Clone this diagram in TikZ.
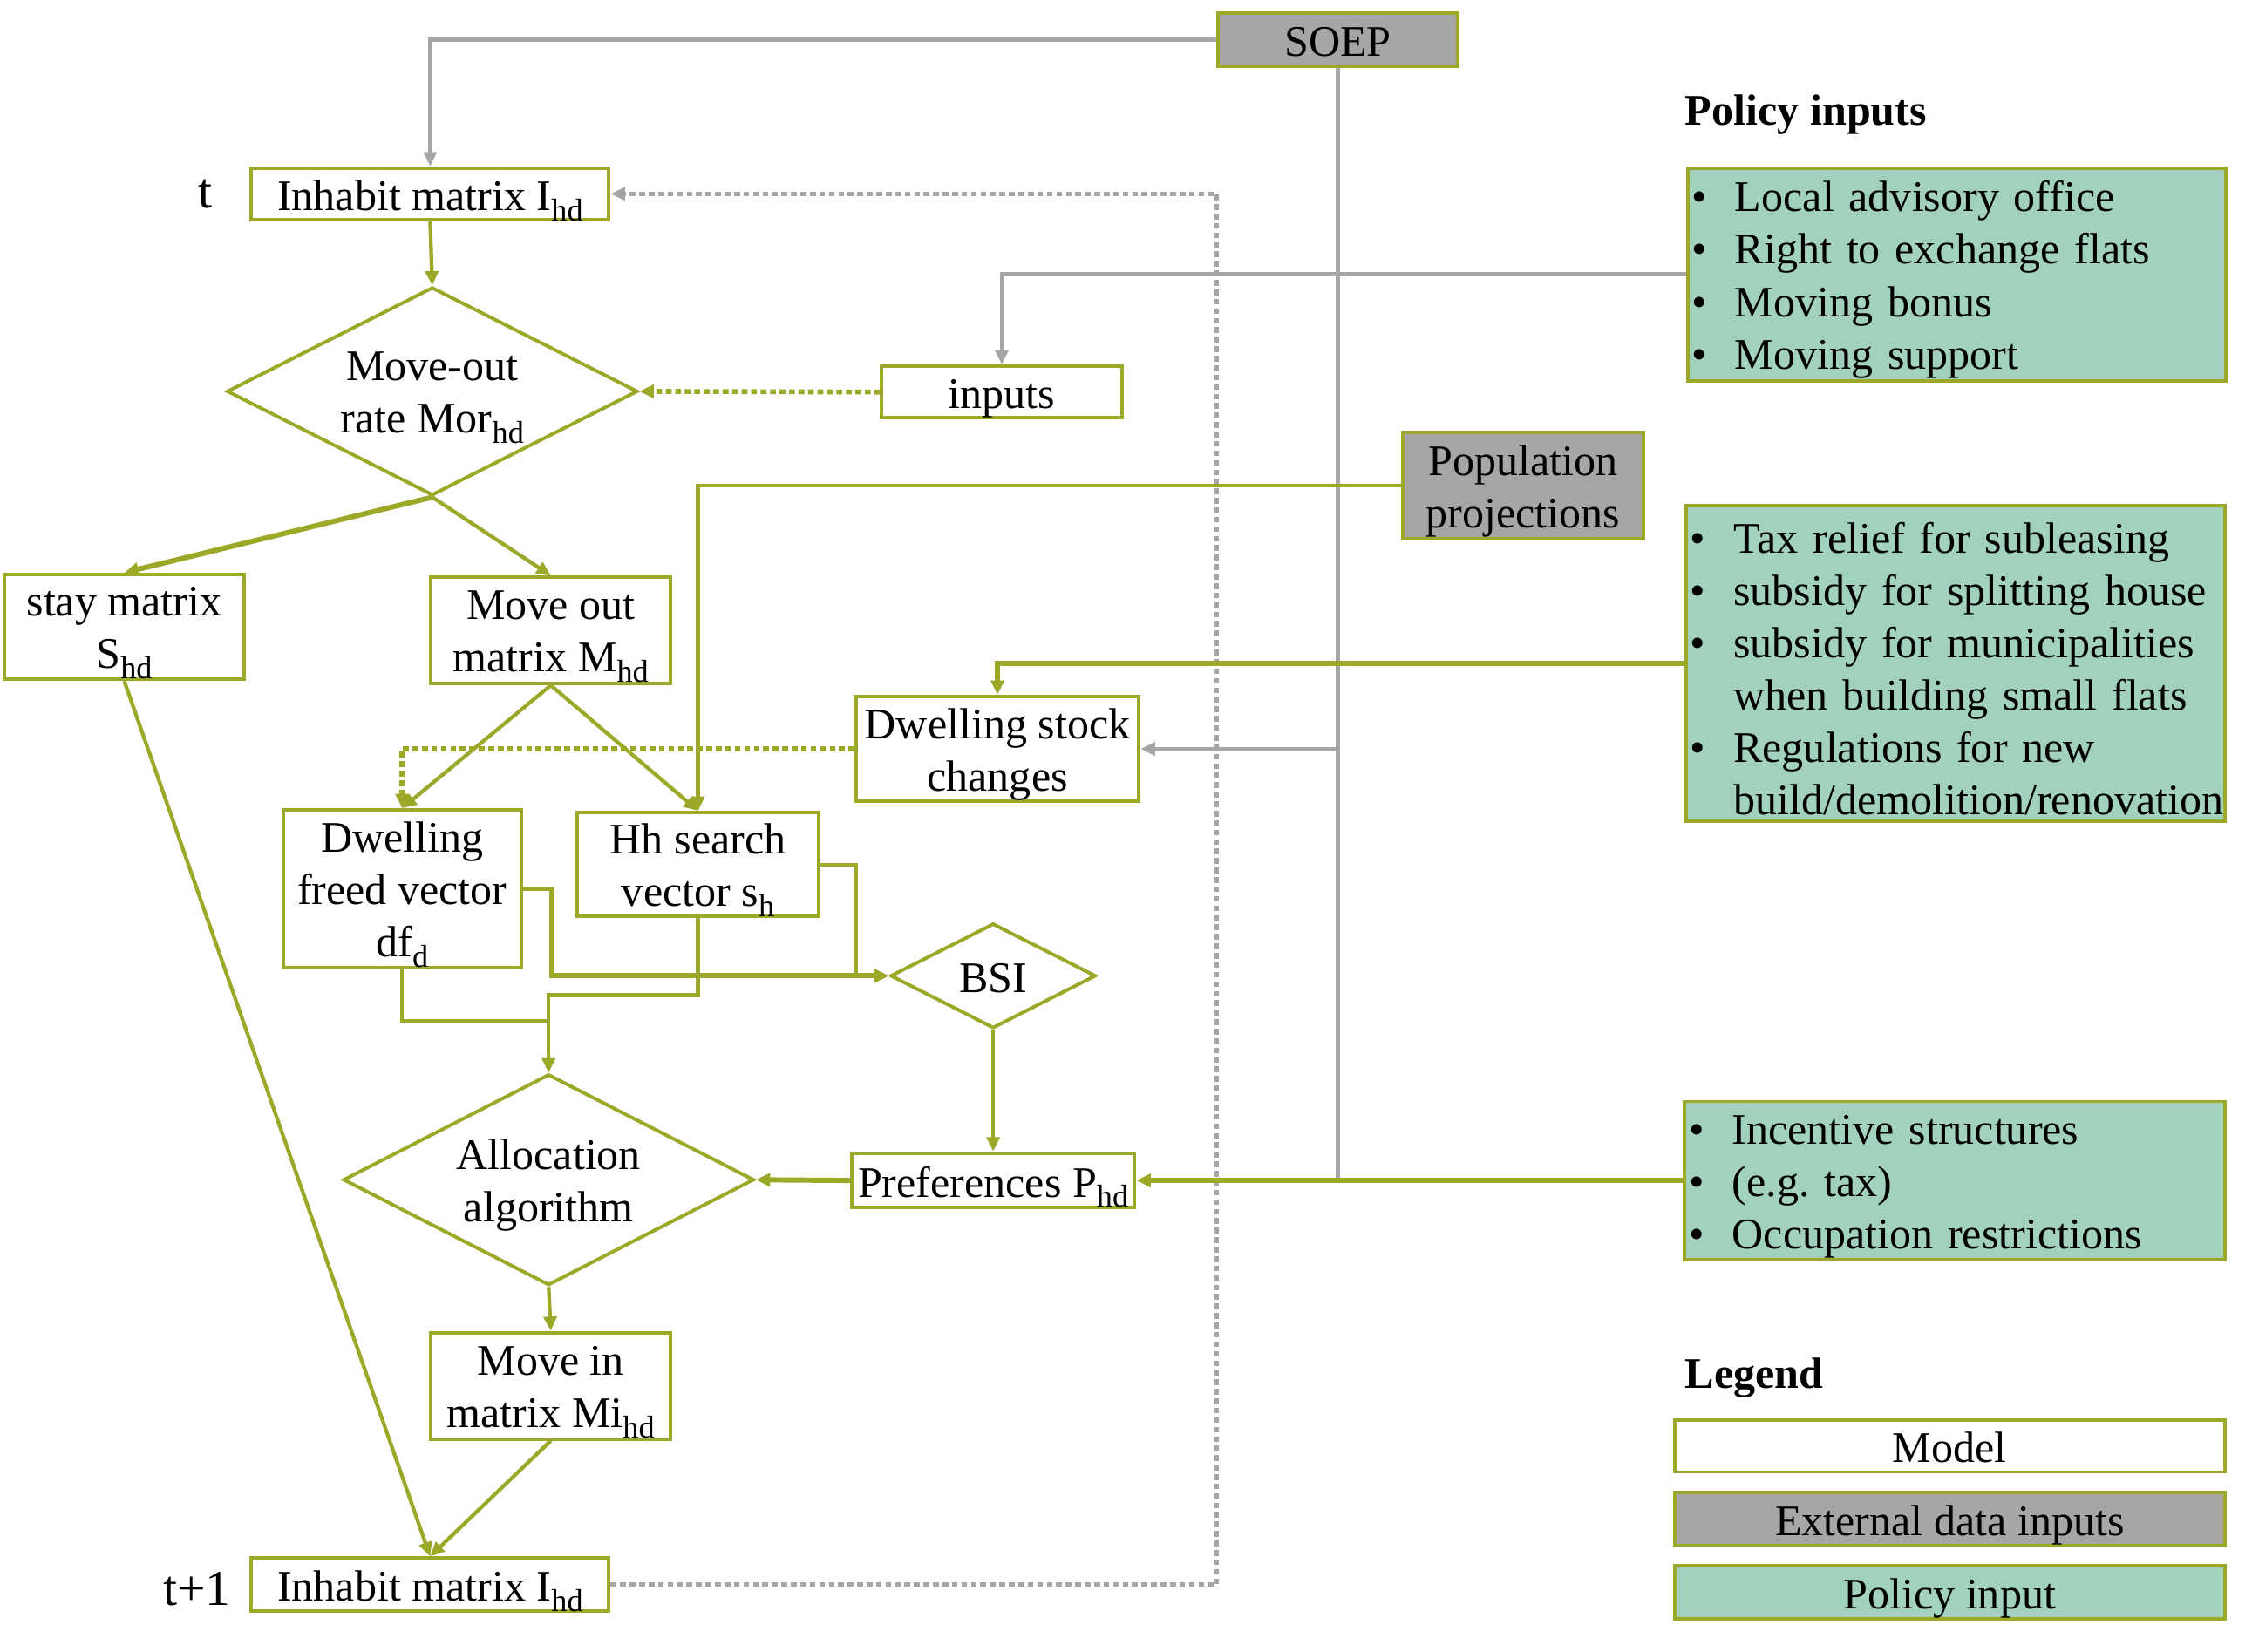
\documentclass[tikz,border=0pt]{standalone}
\usepackage{fontspec}
\setmainfont{Liberation Serif}
\usetikzlibrary{arrows.meta,shapes.geometric,calc}
\definecolor{olv}{RGB}{155,168,40}
\definecolor{tealf}{RGB}{162,209,189}
\definecolor{grf}{RGB}{166,166,166}
\newcommand\bitem[1]{\makebox[15pt][l]{\textbullet}#1}
\newcommand\bcont[1]{\hspace*{15pt}#1}
\newcommand\sbs[1]{\raisebox{-3.6pt}{\fontsize{11}{11}\selectfont #1}}
\newcommand\topstrut{\rule{0pt}{14.4pt}}
\frenchspacing
\begin{document}
\begin{tikzpicture}[x=0.5pt,y=-0.5pt,
  every node/.style={font=\fontsize{15.2}{18.25}\selectfont},
  box/.style={draw=olv, line width=1.2pt, rectangle, inner xsep=1pt, inner ysep=0pt, align=center},
  one/.style={text height=11.5pt, text depth=0pt},
  model/.style={box, fill=white},
  ext/.style={box, fill=grf},
  pol/.style={box, fill=tealf, align=left, inner xsep=1.5pt, text width=#1},
  dia/.style={draw=olv, line width=1.2pt, diamond, aspect=2, inner sep=0pt, align=center, fill=white},
  con/.style={draw=olv, line width=1.3pt, -{Triangle[length=5pt,width=4.5pt]}},
  tcon/.style={con, line width=1.8pt},
  dcon/.style={con, line width=1.7pt, dash pattern=on 2pt off 1.3pt},
  gline/.style={draw=grf, line width=1.35pt},
  gcon/.style={gline, -{Triangle[length=5pt,width=4.5pt]}},
  gdot/.style={gcon, line width=1.5pt, dash pattern=on 2pt off 1.3pt},
  ttl/.style={inner sep=0pt, font=\bfseries\fontsize{15.2}{18}\selectfont},
  tlab/.style={inner sep=0pt, font=\fontsize{17.5}{20}\selectfont}
]
\fill[white] (0,0) rectangle (1568,1150);
\useasboundingbox (0,0) rectangle (1568,1150);

% nodes
\node[ext, one, minimum width=83.5pt, minimum height=18.5pt] (soep) at (931.5,27.5) {SOEP};
\node[model, one, minimum width=124.5pt, minimum height=18pt] (inh1) at (299.5,135) {Inhabit matrix I\sbs{hd}};
\node[model, one, minimum width=83.5pt, minimum height=18pt] (inputs) at (697.5,273) {inputs};
\node[dia, minimum width=143pt, minimum height=72.5pt] (mor) at (301,272.5) {\topstrut Move-out\\rate Mor\sbs{hd}};
\node[model, minimum width=83.5pt, minimum height=36.5pt] (stay) at (86.5,436.5) {\topstrut stay matrix\\S\sbs{hd}};
\node[model, minimum width=83.5pt, minimum height=37pt] (mout) at (383.5,439) {\topstrut Move out\\matrix M\sbs{hd}};
\node[ext, minimum width=83.5pt, minimum height=37pt] (pop) at (1060.5,338) {\topstrut Population\\projections};
\node[model, minimum width=98.5pt, minimum height=36.5pt] (dsc) at (694.5,521.5) {\topstrut Dwelling stock\\changes};
\node[model, minimum width=83pt, minimum height=55pt] (dfv) at (280,619) {\topstrut Dwelling\\freed vector\\df\sbs{d}};
\node[model, minimum width=84pt, minimum height=36pt] (hh) at (486,602) {\topstrut Hh search\\vector s\sbs{h}};
\node[dia, one, minimum width=71.5pt, minimum height=36.5pt] (bsi) at (691.5,679.5) {BSI};
\node[dia, minimum width=143pt, minimum height=73.5pt] (alloc) at (382,821.5) {\topstrut Allocation\\algorithm};
\node[model, one, minimum width=98.5pt, minimum height=19pt] (pref) at (691.5,822) {Preferences P\sbs{hd}};
\node[model, minimum width=83.5pt, minimum height=37pt] (min) at (383.5,965) {\topstrut Move in\\matrix Mi\sbs{hd}};
\node[model, one, minimum width=124.5pt, minimum height=18.5pt] (inh2) at (299.5,1103.5) {Inhabit matrix I\sbs{hd}};

\node[pol=184.5pt, minimum height=74pt] (p1) at (1362.5,191)
  {\topstrut\bitem{Local advisory office}\\\bitem{Right to exchange flats}\\\bitem{Moving bonus}\\\bitem{Moving support}};
\node[pol=184.5pt, minimum height=110pt] (p2) at (1361.5,462)
  {\topstrut\bitem{Tax relief for subleasing}\\\bitem{subsidy for splitting house}\\\bitem{subsidy for municipalities}\\\bcont{when building small flats}\\\bitem{Regulations for new}\\\bcont{build/demolition/renovation}};
\node[pol=185pt, minimum height=55pt] (p3) at (1361,822)
  {\topstrut\bitem{Incentive structures}\\\bitem{(e.g. tax)}\\\bitem{Occupation restrictions}};

\node[ttl, anchor=base west] (ptitle) at (1173,87) {Policy inputs};
\node[ttl, anchor=base west] (ltitle) at (1173,967) {Legend};
\node[tlab, anchor=base] (tlab0) at (143,145) {t};
\node[tlab, anchor=base east] (tlab1) at (161,1118) {t+1};

\node[model, one, minimum width=191.5pt, minimum height=18pt] (lm) at (1357.5,1007) {Model};
\node[ext, one, minimum width=191.5pt, minimum height=18.5pt] (le) at (1357.5,1057.5) {External data inputs};
\node[box, one, fill=tealf, minimum width=191.5pt, minimum height=18.5pt] (lp) at (1357.5,1108.5) {Policy input};

% connectors
\draw[gcon] (soep.west) -| (inh1.north);
\draw[gline] (soep.south) -- (soep.south |- pref.east);
\draw[gcon] (soep.south |- dsc.east) -- (dsc.east);
\draw[gcon] (p1.west) -| (inputs.north);
\draw[gdot] (inh2.east) -- ++(422,0) |- (inh1.east);
\draw[dcon] (inputs.west) -- (mor.east);
\draw[con] (inh1.south) -- (mor.north);
\draw[tcon] (mor.south) -- (stay.north);
\draw[con] (mor.south) -- (mout.north);
\draw[con] (pop.west) -| (hh.north);
\draw[tcon] (p2.west) -| (dsc.north);
\draw[dcon] (dsc.west) -| (dfv.north);
\draw[con] (mout.south) -- (dfv.north);
\draw[con] (mout.south) -- (hh.north);
\draw[con] (dfv.east) -- ++(20,0) |- (bsi.west);
\draw[con] (hh.east) -- ++(25,0) |- (bsi.west);
\draw[tcon] ($(dfv.east)+(20,0)$) |- (bsi.west);
\coordinate (j1) at (382,711);
\coordinate (j2) at (382,693);
\draw[con] (dfv.south) |- (j1) -- (alloc.north);
\draw[con] (hh.south) |- (j2) -- (alloc.north);
\draw[con] (bsi.south) -- (pref.north);
\draw[tcon] (pref.west) -- (alloc.east);
\draw[tcon] (p3.west) -- (pref.east);
\draw[con] (alloc.south) -- (min.north);
\draw[con] (min.south) -- (inh2.north);
\draw[con] (stay.south) -- (inh2.north);
\end{tikzpicture}
\end{document}
